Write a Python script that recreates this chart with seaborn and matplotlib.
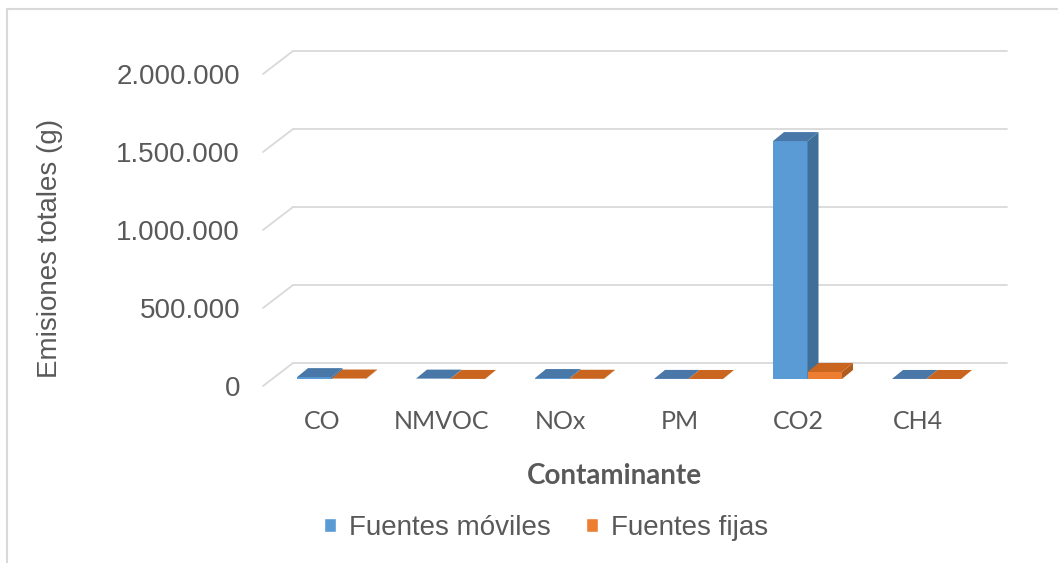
import matplotlib
matplotlib.use("Agg")
import matplotlib.pyplot as plt
import seaborn as sns
import pandas as pd
from matplotlib.transforms import ScaledTranslation, IdentityTransform
from matplotlib.patches import Polygon
from matplotlib.lines import Line2D

# ---- data ----
categories = ["CO", "NMVOC", "NOx", "PM", "CO2", "CH4"]
series_names = ["Fuentes móviles", "Fuentes fijas"]
moviles = [12000, 2500, 6000, 500, 1525000, 300]
fijas = [3000, 400, 1500, 150, 45000, 80]
yticks = [0, 500000, 1000000, 1500000, 2000000]
ytick_labels = ["0", "500.000", "1.000.000", "1.500.000", "2.000.000"]

front_colors = ["#5B9BD5", "#ED7D31"]
side_colors = ["#3F6E98", "#B15B1F"]
top_colors = ["#4877A8", "#C9651F"]
grid_color = "#D9D9D9"
text_color = "#595959"

df = pd.DataFrame({
    "Contaminante": categories * 2,
    "Emisiones": moviles + fijas,
    "Fuente": [series_names[0]] * len(categories) + [series_names[1]] * len(categories),
})

sns.set_theme(style="white")
plt.rcParams["font.family"] = ["Liberation Sans", "DejaVu Sans"]

W, H = 1058, 563
fig = plt.figure(figsize=(W / 100, H / 100), dpi=100)
fig.patch.set_facecolor("white")
# front plane of the 3D box
ax = fig.add_axes([263 / W, (H - 386) / H, 714 / W, 312 / H])

sns.barplot(data=df, x="Contaminante", y="Emisiones", hue="Fuente",
            order=categories, hue_order=series_names, palette=front_colors,
            width=0.58, saturation=1, ax=ax, legend=True, errorbar=None)

ax.set_xlim(-0.5, len(categories) - 0.5)
ax.set_ylim(0, 2000000)
ax.set_facecolor("none")
for s in ax.spines.values():
    s.set_visible(False)

def off(dx, dy):
    return ScaledTranslation(dx / 100, dy / 100, fig.dpi_scale_trans)

# back wall gridlines + side wall diagonals
wall = (30, 23)
for yv in yticks:
    ax.plot([-0.5, len(categories) - 0.5], [yv, yv], color=grid_color, lw=1.3,
            transform=ax.transData + off(*wall), clip_on=False, zorder=0)
    p0 = ax.transData.transform((-0.5, yv))
    ax.add_line(Line2D([p0[0], p0[0] + wall[0]], [p0[1], p0[1] + wall[1]],
                       color=grid_color, lw=1.3, transform=IdentityTransform(),
                       clip_on=False, zorder=0))

# 3D faces for bars
bar_off = (9, 7)
depth = (11, 9)
for hi, cont in enumerate(ax.containers):
    for p in cont.patches:
        x0 = p.get_x()
        w = p.get_width()
        h = p.get_height()
        p.set_transform(ax.transData + off(*bar_off))
        p.set_clip_on(False)
        p.set_zorder(3 + hi)
        p.set_edgecolor("none")
        bl = ax.transData.transform((x0, 0)) + bar_off
        br = ax.transData.transform((x0 + w, 0)) + bar_off
        tl = ax.transData.transform((x0, h)) + bar_off
        tr = ax.transData.transform((x0 + w, h)) + bar_off
        side = Polygon([br, tr, tr + depth, br + depth], closed=True,
                       facecolor=side_colors[hi], edgecolor="none",
                       transform=IdentityTransform(), clip_on=False, zorder=3 + hi)
        top = Polygon([tl, tr, tr + depth, tl + depth], closed=True,
                      facecolor=top_colors[hi], edgecolor="none",
                      transform=IdentityTransform(), clip_on=False, zorder=3 + hi)
        ax.add_patch(side)
        ax.add_patch(top)

# ticks
ax.set_yticks(yticks)
ax.set_yticklabels(ytick_labels)
ax.tick_params(axis="y", length=0, pad=16.5, labelsize=20, labelcolor=text_color)
ax.tick_params(axis="x", length=0, pad=17, labelsize=18, labelcolor=text_color)
for lab in ax.get_xticklabels():
    lab.set_fontfamily(["Lato", "DejaVu Sans"])

ax.set_ylabel("Emisiones totales (g)", fontsize=20, color=text_color)
ax.yaxis.set_label_coords((63 - 263) / 714, (386 - 248) / 312)
ax.set_xlabel("Contaminante", fontsize=20, color=text_color, fontweight="bold",
              fontfamily=["Lato", "DejaVu Sans"])
ax.xaxis.set_label_coords((614 - 263) / 714, (386 - 463) / 312)

# legend
handles, labels = ax.get_legend_handles_labels()
ax.get_legend().remove()
fig.legend(handles, labels, loc="center", bbox_to_anchor=(546 / W, 1 - 528 / H),
           ncol=2, frameon=False, fontsize=20, labelcolor=text_color,
           handlelength=0.42, handleheight=0.42, handletextpad=0.45,
           columnspacing=1.3, borderpad=0)

# chart area border (top and left visible)
fig.add_artist(Line2D([7 / W, 1], [1 - 9 / H, 1 - 9 / H], color=grid_color, lw=1.5,
                      transform=fig.transFigure))
fig.add_artist(Line2D([7 / W, 7 / W], [0, 1 - 9 / H], color=grid_color, lw=1.5,
                      transform=fig.transFigure))

fig.savefig("out.png", dpi=100)
